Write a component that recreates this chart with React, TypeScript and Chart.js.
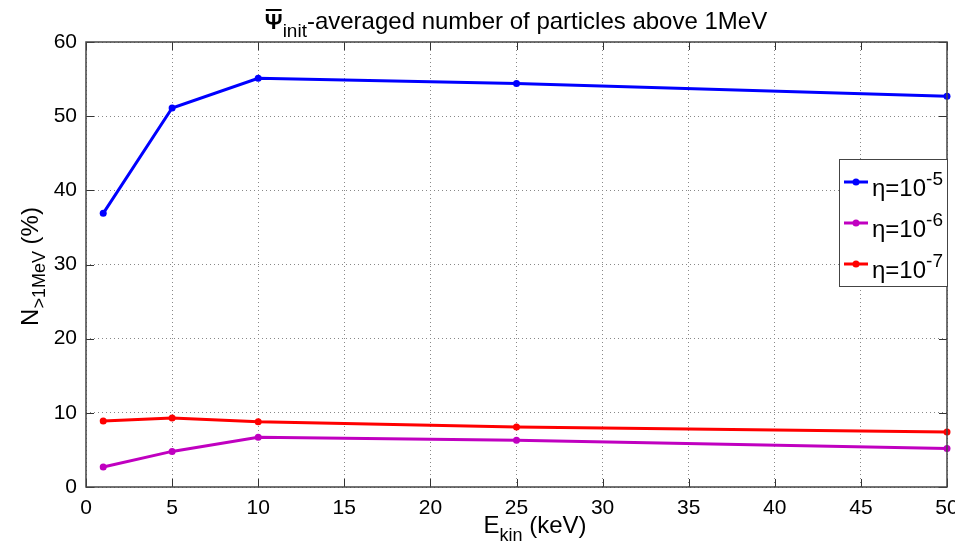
import React, { useEffect, useRef } from 'react';
import { Chart, registerables } from 'chart.js';

Chart.register(...registerables);

const energies = [1, 5, 10, 25, 50];
const eta5 = [36.9, 51.1, 55.1, 54.4, 52.7];
const eta6 = [2.7, 4.8, 6.7, 6.3, 5.2];
const eta7 = [8.9, 9.3, 8.8, 8.1, 7.4];
const seriesExponents = ['-5', '-6', '-7'];
const seriesColors = ['#0000FF', '#C000C0', '#FF0000'];
const xMin = 0, xMax = 50, xStep = 5;
const yMin = 0, yMax = 60, yStep = 10;
const titleMain = '-averaged number of particles above 1MeV';

const FONT = '"Liberation Sans", Arial, Helvetica, sans-serif';

type Part = { t: string; s: number; dy?: number; b?: boolean };

function fontOf(p: Part) {
  return `${p.b ? 'bold ' : ''}${p.s}px ${FONT}`;
}

function measureParts(ctx: CanvasRenderingContext2D, parts: Part[]) {
  let w = 0;
  const ws: number[] = [];
  for (const p of parts) {
    ctx.font = fontOf(p);
    const m = ctx.measureText(p.t).width;
    ws.push(m);
    w += m;
  }
  return { w, ws };
}

function drawRich(ctx: CanvasRenderingContext2D, parts: Part[], x: number, y: number, align: 'left' | 'center') {
  const { w, ws } = measureParts(ctx, parts);
  let cx = align === 'center' ? x - w / 2 : x;
  const starts: number[] = [];
  ctx.textAlign = 'left';
  ctx.textBaseline = 'alphabetic';
  parts.forEach((p, i) => {
    ctx.font = fontOf(p);
    starts.push(cx);
    ctx.fillText(p.t, cx, y + (p.dy || 0));
    cx += ws[i];
  });
  return { starts, ws };
}

const overlayPlugin = {
  id: 'matlabOverlay',
  afterDatasetsDraw(chart: any) {
    const ctx: CanvasRenderingContext2D = chart.ctx;
    const { left, right, top, bottom } = chart.chartArea;
    const xs = chart.scales.x;
    const ys = chart.scales.y;
    ctx.save();
    // tick marks inside
    ctx.strokeStyle = '#333';
    ctx.lineWidth = 1;
    const tl = 8;
    ctx.beginPath();
    for (let v = xMin; v <= xMax; v += xStep) {
      const px = Math.round(xs.getPixelForValue(v)) + 0.5;
      ctx.moveTo(px, bottom);
      ctx.lineTo(px, bottom - tl);
      ctx.moveTo(px, top);
      ctx.lineTo(px, top + tl);
    }
    for (let v = yMin; v <= yMax; v += yStep) {
      const py = Math.round(ys.getPixelForValue(v)) + 0.5;
      ctx.moveTo(left, py);
      ctx.lineTo(left + tl, py);
      ctx.moveTo(right, py);
      ctx.lineTo(right - tl, py);
    }
    ctx.stroke();
    // box
    ctx.strokeStyle = '#444';
    ctx.lineWidth = 1.5;
    ctx.strokeRect(left, top, right - left, bottom - top);

    ctx.fillStyle = '#000';
    // title
    const tParts: Part[] = [
      { t: 'Ψ', s: 22, b: true },
      { t: 'init', s: 19, dy: 8 },
      { t: titleMain, s: 24 },
    ];
    const tr = drawRich(ctx, tParts, 516, 29, 'center');
    ctx.strokeStyle = '#000';
    ctx.lineWidth = 2;
    ctx.beginPath();
    ctx.moveTo(tr.starts[0] + 1, 10);
    ctx.lineTo(tr.starts[0] + tr.ws[0] - 1, 10);
    ctx.stroke();

    // x label
    drawRich(
      ctx,
      [
        { t: 'E', s: 24 },
        { t: 'kin', s: 18, dy: 8 },
        { t: ' (keV)', s: 24 },
      ],
      535,
      533,
      'center'
    );

    // y label
    ctx.save();
    ctx.translate(38, (top + bottom) / 2 + 2);
    ctx.rotate(-Math.PI / 2);
    drawRich(
      ctx,
      [
        { t: 'N', s: 24 },
        { t: '>1MeV', s: 18, dy: 7 },
        { t: ' (%)', s: 24 },
      ],
      0,
      0,
      'center'
    );
    ctx.restore();

    // legend
    const lx0 = 839, ly0 = 159, lx1 = 947, ly1 = 286;
    ctx.fillStyle = '#fff';
    ctx.fillRect(lx0, ly0, lx1 - lx0, ly1 - ly0);
    ctx.strokeStyle = '#444';
    ctx.lineWidth = 1;
    ctx.strokeRect(lx0 + 0.5, ly0 + 0.5, lx1 - lx0, ly1 - ly0);
    const rows = [182, 223, 264];
    seriesExponents.forEach((ex, i) => {
      const yy = rows[i];
      ctx.strokeStyle = seriesColors[i];
      ctx.lineWidth = 3;
      ctx.beginPath();
      ctx.moveTo(844, yy);
      ctx.lineTo(868, yy);
      ctx.stroke();
      ctx.fillStyle = seriesColors[i];
      ctx.beginPath();
      ctx.arc(856, yy, 3.5, 0, Math.PI * 2);
      ctx.fill();
      ctx.fillStyle = '#000';
      drawRich(
        ctx,
        [
          { t: 'η', s: 24 },
          { t: '=10', s: 24 },
          { t: ex, s: 19, dy: -11 },
        ],
        872,
        yy + 14,
        'left'
      );
    });
    ctx.restore();
  },
};

export default function App() {
  const ref = useRef<HTMLCanvasElement | null>(null);
  useEffect(() => {
    if (!ref.current) return;
    const data = [eta5, eta6, eta7];
    const chart = new Chart(ref.current, {
      type: 'line',
      data: {
        datasets: data.map((vals, i) => ({
          label: 'η=10' + seriesExponents[i],
          data: energies.map((e, j) => ({ x: e, y: vals[j] })),
          borderColor: seriesColors[i],
          backgroundColor: seriesColors[i],
          borderWidth: 3,
          pointRadius: 3.5,
          pointBorderWidth: 0,
          pointBackgroundColor: seriesColors[i],
          tension: 0,
          clip: false as any,
        })),
      },
      options: {
        responsive: false,
        animation: false,
        devicePixelRatio: 1,
        layout: { padding: { top: 42, right: 8, left: 0, bottom: 0 } },
        plugins: {
          legend: { display: false },
          title: { display: false },
          tooltip: { enabled: false },
        },
        scales: {
          x: {
            type: 'linear',
            min: xMin,
            max: xMax,
            ticks: {
              stepSize: xStep,
              padding: 9,
              color: '#000',
              font: { family: FONT, size: 21 },
            },
            grid: { color: '#888', lineWidth: 1, drawTicks: false },
            border: { display: false, dash: [1, 3] },
            afterFit: (s: any) => {
              s.height = 58;
              s.paddingLeft = 0;
              s.paddingRight = 0;
            },
          },
          y: {
            type: 'linear',
            min: yMin,
            max: yMax,
            ticks: {
              stepSize: yStep,
              padding: 9,
              color: '#000',
              font: { family: FONT, size: 21 },
            },
            grid: { color: '#888', lineWidth: 1, drawTicks: false },
            border: { display: false, dash: [1, 3] },
            afterFit: (s: any) => {
              s.width = 86;
              s.paddingTop = 0;
              s.paddingBottom = 0;
            },
          },
        },
      },
      plugins: [overlayPlugin],
    });
    return () => chart.destroy();
  }, []);
  return (
    <div style={{ position: 'absolute', left: 0, top: 0, width: 955, height: 545, background: '#fff' }}>
      <canvas ref={ref} width={955} height={545} style={{ display: 'block' }} />
    </div>
  );
}
